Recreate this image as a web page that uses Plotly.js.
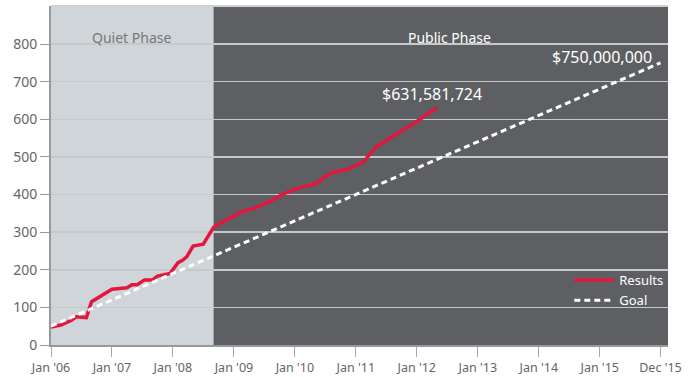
<!DOCTYPE html>
<html>
<head>
<meta charset="utf-8">
<script src="https://cdn.plot.ly/plotly-3.0.1.min.js"></script>
<style>html,body{margin:0;padding:0;background:#fff;}#chart{width:700px;height:377px;}</style>
</head>
<body>
<div id="chart"></div>
<script>
// Campaign results (millions of dollars)
const resultDates = ['2006-01-01','2006-03-01','2006-05-01','2006-06-01','2006-08-01','2006-09-01',
  '2007-01-01','2007-04-01','2007-05-01','2007-06-01','2007-07-15','2007-09-01','2007-10-01','2007-12-15',
  '2008-02-01','2008-03-01','2008-03-25','2008-05-01','2008-07-01','2008-09-01','2008-11-15',
  '2009-02-15','2009-05-01','2009-08-01','2009-11-01','2010-02-15','2010-05-01','2010-08-01','2010-11-15',
  '2011-02-15','2011-05-01','2011-09-15','2012-01-15','2012-05-01'];
const resultValues = [48,53,65,75,73,115,
  148,152,160,160,173,173,183,190,
  219,226,235,263,268,313,332,
  354,363,381,403,421,427,457,467,
  486,526,563,598,632];
// Goal line
const goalDates = ['2006-01-01','2015-12-31'];
const goalValues = [50,750];
// Axis ticks
const xTickVals = ['2006-01-01','2007-01-01','2008-01-01','2009-01-01','2010-01-01','2011-01-01','2012-01-01','2013-01-01','2014-01-01','2015-01-01','2015-12-31'];
const xTickText = ["Jan '06","Jan '07","Jan '08","Jan '09","Jan '10","Jan '11","Jan '12","Jan '13","Jan '14","Jan '15","Dec '15"];
const yTickVals = [0,100,200,300,400,500,600,700,800];
// Phases
const phaseNames = ['Quiet Phase','Public Phase'];
const phaseStart = ['2006-01-01','2008-09-01'];
const phaseEnd = ['2008-09-01','2016-02-14'];
const labelResult = '$631,581,724';
const labelGoal = '$750,000,000';

const FONT = '"Noto Sans", "Open Sans", sans-serif';

const traces = [
  {x: resultDates, y: resultValues, type:'scatter', mode:'lines', name:'Results',
   line:{color:'#e3173e', width:3.5}},
  {x: goalDates, y: goalValues, type:'scatter', mode:'lines', name:'Goal',
   line:{color:'#ffffff', width:3, dash:'6px,4px'}}
];

const layout = {
  width:700, height:377,
  margin:{l:51, r:32, t:6, b:32},
  paper_bgcolor:'#ffffff',
  plot_bgcolor:'#5e5f63',
  font:{family:FONT, color:'#666'},
  showlegend:true,
  legend:{x:0.84, y:0.235, xanchor:'left', yanchor:'top', bgcolor:'rgba(0,0,0,0)',
    font:{family:FONT, size:13, color:'#ffffff'}, itemwidth:40, tracegroupgap:0},
  xaxis:{type:'date', range:['2006-01-01', phaseEnd[1]], tickvals:xTickVals, ticktext:xTickText,
    ticks:'outside', ticklen:10, tickcolor:'#aaa', tickwidth:1,
    showgrid:false, zeroline:false, showline:true, linecolor:'#999', linewidth:1.5,
    tickfont:{family:FONT, size:12.5, color:'#666'}, fixedrange:true},
  yaxis:{range:[0,901], tickvals:yTickVals, ticks:'outside', ticklen:9, tickcolor:'#999', tickwidth:1,
    showgrid:true, gridcolor:'#c6c9cb', gridwidth:1.5, zeroline:false,
    showline:true, linecolor:'#999', linewidth:2,
    tickfont:{family:FONT, size:14, color:'#666'}, fixedrange:true},
  shapes:[
    {type:'rect', xref:'x', yref:'paper', x0:phaseStart[0], x1:phaseEnd[0], y0:0, y1:1,
     fillcolor:'#cfd5d8', line:{width:0}, layer:'below'},
    {type:'line', xref:'paper', yref:'paper', x0:0, x1:1, y0:1, y1:1,
     line:{color:'#d0d0d0', width:2}, layer:'above'}
  ],
  annotations:[
    {xref:'x', yref:'paper', x:'2007-05-01', y:0.941, text:phaseNames[0], showarrow:false,
     font:{family:FONT, size:14, color:'#777'}},
    {xref:'x', yref:'paper', x:'2012-07-15', y:0.941, text:phaseNames[1], showarrow:false,
     font:{family:FONT, size:14, color:'#ffffff'}},
    {xref:'x', yref:'y', x:'2012-04-01', y:667, text:labelResult, showarrow:false,
     font:{family:FONT, size:16, color:'#ffffff'}},
    {xref:'x', yref:'y', x:'2015-01-15', y:765, text:labelGoal, showarrow:false,
     font:{family:FONT, size:16, color:'#ffffff'}}
  ]
};

Plotly.newPlot('chart', traces, layout, {displayModeBar:false, staticPlot:true});
</script>
</body>
</html>
